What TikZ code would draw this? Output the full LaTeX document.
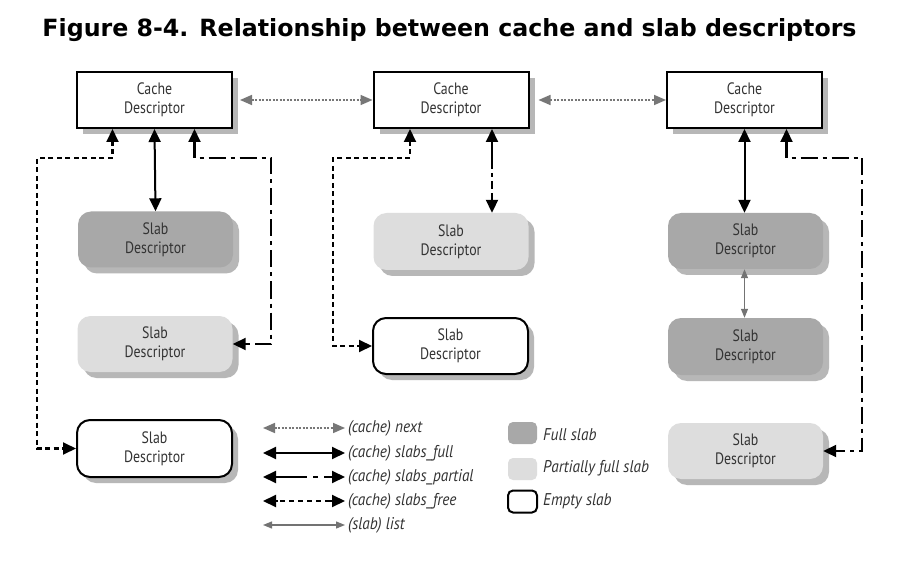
\documentclass[tikz,border=0pt]{standalone}
\usepackage{fontspec}
\setmainfont{PT Sans}
\newfontfamily\titlefont{DejaVu Sans}
\newfontfamily\condfont[FakeStretch=0.84]{PT Sans}
\newfontfamily\legfont[FakeStretch=0.9]{PT Sans}
\usetikzlibrary{arrows.meta,shadows,calc}
\definecolor{fullgray}{HTML}{A8A8A8}
\definecolor{partgray}{HTML}{DDDDDD}
\definecolor{nextgray}{HTML}{777777}
\tikzset{
  tip/.style={-{Triangle[length=13pt,width=12pt]}},
  bitip/.style={{Triangle[length=13pt,width=12pt]}-{Triangle[length=13pt,width=12pt]}},
  shad/.style={drop shadow={shadow xshift=6pt,shadow yshift=-6pt,fill=black!35,opacity=0.8}},
  cachebox/.style={draw=black,line width=2pt,fill=white,minimum width=155pt,minimum height=56pt,
    align=center,font=\condfont\fontsize{16.5}{19}\selectfont,text=black!80,shad},
  slabbox/.style={rounded corners=13pt,minimum width=155pt,minimum height=56pt,
    align=center,font=\condfont\fontsize{16.5}{19}\selectfont,text=black!80,shad},
  fullslab/.style={slabbox,fill=fullgray},
  partslab/.style={slabbox,fill=partgray},
  emptyslab/.style={slabbox,draw=black,line width=2pt,fill=white},
  fullarr/.style={bitip,line width=2pt,black},
  freearr/.style={line width=2.5pt,black,dash pattern=on 5pt off 3.5pt},
  partarr/.style={line width=2.5pt,black,dash pattern=on 17pt off 5pt on 4pt off 5pt},
  headarr/.style={tip,line width=2pt,black},
  nextarr/.style={{Triangle[length=12pt,width=10pt]}-{Triangle[length=12pt,width=10pt]},line width=1.6pt,nextgray,dash pattern=on 2pt off 1.5pt},
  listarr/.style={{Triangle[length=9pt,width=7pt]}-{Triangle[length=9pt,width=7pt]},line width=1.2pt,black!55},
  legtext/.style={anchor=west,font=\legfont\itshape\fontsize{17}{20}\selectfont,text=black!80,inner sep=0pt},
  swatch/.style={rounded corners=5pt,minimum width=29pt,minimum height=22pt,inner sep=0pt},
}
\begin{document}
\begin{tikzpicture}[x=1pt,y=-1pt]
\useasboundingbox[fill=white] (0,0) rectangle (899,561);
\node[font=\titlefont\bfseries\fontsize{23.7}{26}\selectfont,anchor=base] (title) at (449.5,37) {Figure 8-4. Relationship between cache and slab descriptors};

% cache descriptors
\node[cachebox] (cL) at (154.5,100) {Cache\\Descriptor};
\node[cachebox] (cM) at (451,100) {Cache\\Descriptor};
\node[cachebox] (cR) at (744.5,100) {Cache\\Descriptor};

% slabs
\node[fullslab] (L1) at (155.5,239.5) {Slab\\Descriptor};
\node[partslab] (L2) at (155,344) {Slab\\Descriptor};
\node[emptyslab,minimum height=57pt] (L3) at (154.5,448.5) {Slab\\Descriptor};
\node[partslab,minimum height=57pt] (M1) at (451,241.5) {Slab\\Descriptor};
\node[emptyslab,minimum height=56pt] (M2) at (450.5,346) {Slab\\Descriptor};
\node[fullslab] (R1) at (745.5,241) {Slab\\Descriptor};
\node[fullslab,minimum height=57pt] (R2) at (745.5,346.5) {Slab\\Descriptor};
\node[partslab] (R3) at (745.5,451) {Slab\\Descriptor};

% next links
\draw[nextarr,shorten <=7pt] (cL.east) -- (cM.west);
\draw[nextarr,shorten <=9pt] (cM.east) -- (cR.west);

% left column
\coordinate (lfree) at (37,158);
\coordinate (lpart) at (271,158);
\draw[fullarr] (cL.south) -- (L1.north);
\draw[freearr] ([xshift=-42pt]cL.south) ++(0,12) |- (lfree) |- ([xshift=-10pt]L3.west);
\draw[headarr] ([xshift=-42pt,yshift=-16pt]cL.south) -- ([xshift=-42pt]cL.south);
\draw[headarr] ([xshift=-14pt]L3.west) -- (L3.west);
\draw[partarr] ([xshift=40pt]cL.south) ++(0,12) |- (lpart) |- ([xshift=10pt]L2.east);
\draw[headarr] ([xshift=40pt,yshift=-16pt]cL.south) -- ([xshift=40pt]cL.south);
\draw[headarr] ([xshift=14pt]L2.east) -- (L2.east);

% middle column
\coordinate (mfree) at (333,158);
\draw[freearr] ([xshift=-41pt]cM.south) ++(0,12) |- (mfree) |- ([xshift=-10pt]M2.west);
\draw[headarr] ([xshift=-41pt,yshift=-16pt]cM.south) -- ([xshift=-41pt]cM.south);
\draw[headarr] ([xshift=-14pt]M2.west) -- (M2.west);
\draw[partarr,dash pattern=on 30pt off 4pt on 4pt off 4pt on 8pt off 4pt] ([xshift=41pt,yshift=-10pt]cM.south) -- ([xshift=41pt,yshift=10pt]M1.north);
\draw[headarr] ([xshift=41pt,yshift=-16pt]cM.south) -- ([xshift=41pt]cM.south);
\draw[headarr] ([xshift=41pt,yshift=16pt]M1.north) -- ([xshift=41pt]M1.north);

% right column
\coordinate (rpart) at (862,158);
\draw[fullarr] (cR.south) -- ([xshift=-1pt]R1.north);
\draw[listarr] ([xshift=-1pt]R1.south) -- ([xshift=-1pt]R2.north);
\draw[partarr] ([xshift=42pt]cR.south) ++(0,12) |- (rpart) |- ([xshift=10pt]R3.east);
\draw[headarr] ([xshift=42pt,yshift=-16pt]cR.south) -- ([xshift=42pt]cR.south);
\draw[headarr] ([xshift=14pt]R3.east) -- (R3.east);

% legend arrows
\coordinate (a1) at (263,428); \coordinate (b1) at (345,428);
\coordinate (a2) at (263,453); \coordinate (b2) at (345,453);
\coordinate (a3) at (263,477); \coordinate (b3) at (345,477);
\coordinate (a4) at (263,501); \coordinate (b4) at (345,501);
\coordinate (a5) at (263,525); \coordinate (b5) at (345,525);
\draw[nextarr] (a1) -- (b1);
\draw[fullarr] (a2) -- (b2);
\draw[line width=2.5pt,dash pattern=on 36pt off 6pt on 5pt off 6pt,shorten <=8pt,shorten >=8pt] (a3) -- (b3);
\draw[headarr] ($(a3)!0.2!(b3)$) -- (a3);
\draw[headarr] ($(a3)!0.82!(b3)$) -- (b3);
\draw[line width=2.5pt,dash pattern=on 5pt off 4pt,shorten <=8pt,shorten >=8pt] (a4) -- (b4);
\draw[headarr] ($(a4)!0.18!(b4)$) -- (a4);
\draw[headarr] ($(a4)!0.82!(b4)$) -- (b4);
\draw[listarr] (a5) -- (b5);
\node[legtext] (t1) at (348,428) {(cache) next};
\node[legtext] (t2) at (348,453) {(cache) slabs\_full};
\node[legtext] (t3) at (348,477) {(cache) slabs\_partial};
\node[legtext] (t4) at (348,501) {(cache) slabs\_free};
\node[legtext] (t5) at (348,525) {(slab) list};

% legend swatches
\node[swatch,fill=fullgray] (s1) at (522.5,433) {};
\node[swatch,fill=partgray] (s2) at (522.5,469) {};
\node[swatch,draw=black,line width=2pt,fill=white] (s3) at (522.5,501.5) {};
\node[legtext] (u1) at (543,435) {Full slab};
\node[legtext] (u2) at (543,468) {Partially full slab};
\node[legtext] (u3) at (543,501) {Empty slab};
\end{tikzpicture}
\end{document}
